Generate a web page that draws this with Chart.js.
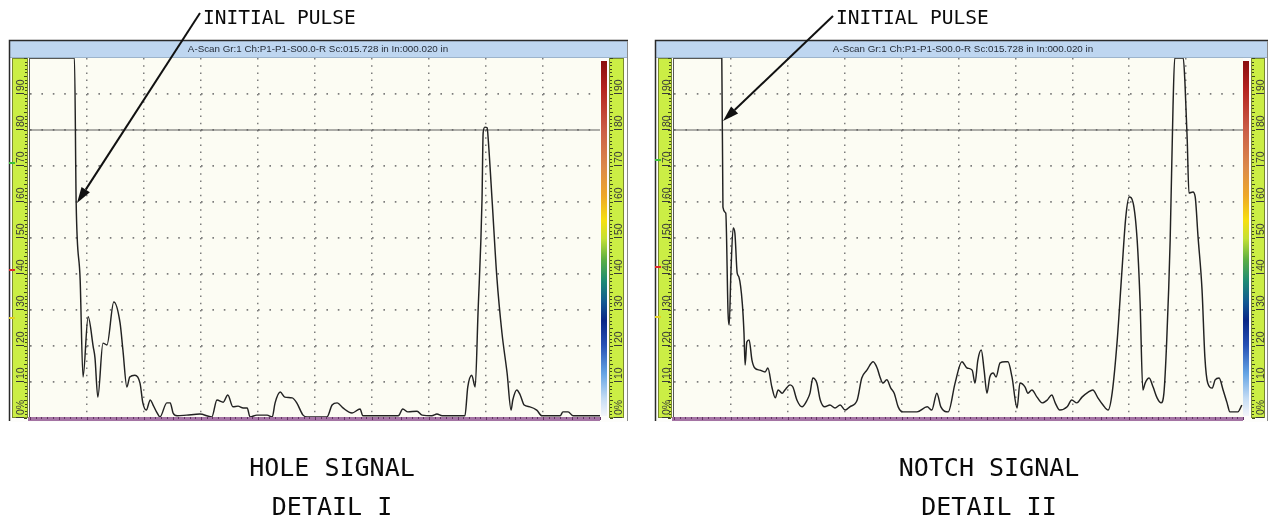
<!DOCTYPE html>
<html>
<head>
<meta charset="utf-8">
<script src="https://cdn.jsdelivr.net/npm/chart.js@4.4.0/dist/chart.umd.min.js"></script>
<style>
  html, body { margin: 0; padding: 0; background: #fff; }
  body { width: 1268px; height: 522px; position: relative; overflow: hidden; }
  canvas { position: absolute; top: 0; }
  svg { position: absolute; left: 0; top: 0; }
  svg text { font-family: "DejaVu Sans Mono", monospace; fill: #0a0a0a; }
</style>
</head>
<body>
<canvas id="hole" width="634" height="430" style="left:0"></canvas>
<canvas id="notch" width="634" height="430" style="left:634px"></canvas>
<svg width="1268" height="522">
  <line x1="200" y1="13" x2="85.7" y2="189.6" stroke="#111" stroke-width="2"/>
  <polygon points="77,203 89.9,192.3 81.5,186.9" fill="#111"/>
  <line x1="833" y1="16" x2="734.6" y2="110" stroke="#111" stroke-width="2"/>
  <polygon points="723,121 738.1,113.6 731.1,106.4" fill="#111"/>
  <text x="203" y="24" font-size="19.5">INITIAL PULSE</text>
  <text x="836" y="24" font-size="19.5">INITIAL PULSE</text>
  <text x="332" y="476" font-size="25" text-anchor="middle">HOLE SIGNAL</text>
  <text x="332" y="515" font-size="25" text-anchor="middle">DETAIL I</text>
  <text x="989" y="476" font-size="25" text-anchor="middle">NOTCH SIGNAL</text>
  <text x="989" y="515" font-size="25" text-anchor="middle">DETAIL II</text>
</svg>
<script>
// screen position (0-100, 10 divisions) and amplitude (% FSH)
const holeX = [0, 7.8, 8.1, 8.8, 9.3, 10.2, 11.1, 11.4, 11.9, 12.8, 13.5, 14.7, 15.8, 16.3, 17.0, 17.5,
  18.4, 19.3, 19.8, 20.4, 21.1, 21.6, 22.3, 22.8, 24.0, 24.6, 25.1, 25.8, 27.5, 29.8, 31.9, 32.8,
  33.9, 34.7, 35.6, 36.5, 37.4, 38.1, 38.6, 39.8, 41.6, 42.5, 43.0, 43.9, 44.7, 46.0, 46.8, 47.9,
  48.6, 52.1, 53.0, 53.9, 54.9, 56.5, 57.9, 58.4, 64.6, 65.4, 66.3, 67.9, 68.8, 70.5, 71.4, 72.3,
  76.3, 76.8, 77.5, 78.1, 78.6, 79.3, 79.5, 79.8, 80.2, 80.4, 81.1, 81.9, 82.8, 83.7, 84.4, 84.7,
  85.4, 86.0, 86.7, 87.7, 88.9, 89.8, 93.0, 93.5, 94.4, 95.3, 100];
const holeY = [100, 100, 59.7, 38.3, 11.4, 28.1, 19.7, 16.7, 5.8, 20.8, 20.3, 32.2, 26.4, 18.9, 8.6, 11.4,
  11.9, 9.7, 4.2, 2.2, 5.0, 3.6, 1.4, 0.3, 4.2, 4.2, 1.4, 0.6, 0.8, 1.1, 0.3, 5.0,
  4.4, 6.4, 3.1, 3.3, 2.8, 2.8, 0.3, 0.8, 0.8, 0.3, 4.2, 7.2, 5.8, 5.6, 4.2, 0.8,
  0.3, 0.3, 3.6, 4.2, 2.8, 1.4, 2.5, 0.6, 0.6, 2.5, 1.7, 1.9, 0.8, 0.6, 1.1, 0.6,
  0.6, 8.6, 11.9, 8.6, 29.2, 60.6, 79.2, 80.8, 80.6, 77.2, 59.7, 39.2, 23.6, 12.5, 2.2, 5.0,
  7.8, 6.4, 3.6, 3.1, 2.2, 0.6, 0.6, 1.7, 1.7, 0.6, 0.6];

const notchX = [0, 8.4, 8.6, 9.1, 9.5, 9.7, 10.0, 10.4, 10.7, 11.1, 11.4, 12.0, 12.3, 12.5, 12.8, 13.2,
  13.7, 14.2, 15.1, 16.0, 16.5, 17.2, 17.8, 18.3, 19.0, 19.5, 20.4, 20.9, 21.6, 22.5, 23.4, 23.9,
  24.4, 25.1, 25.7, 26.5, 27.4, 28.3, 29.2, 30.1, 30.9, 32.2, 33.0, 33.9, 35.0, 35.7, 36.2, 36.7,
  37.4, 38.1, 38.7, 39.4, 40.2, 42.7, 44.5, 45.3, 46.2, 46.9, 48.2, 49.4, 50.6, 51.5, 52.4, 52.9,
  53.4, 54.0, 54.5, 55.0, 55.5, 56.1, 56.6, 57.3, 58.2, 58.7, 59.4, 60.3, 60.8, 61.7, 62.2, 62.9,
  63.8, 64.7, 65.6, 66.4, 67.0, 67.8, 69.1, 69.9, 70.8, 71.7, 72.8, 73.6, 74.5, 75.4, 76.3, 77.0,
  77.9, 78.7, 79.4, 80.0, 80.7, 81.4, 81.9, 82.4, 82.8, 83.5, 84.2, 84.9, 85.6, 86.1, 86.6, 87.2,
  87.7, 88.0, 89.5, 89.8, 90.2, 90.5, 91.2, 91.6, 92.1, 92.8, 93.3, 93.8, 94.6, 95.1, 95.8, 96.5,
  97.2, 97.7, 99.1, 99.8];
const notchY = [100, 100, 58.6, 56.9, 29.2, 25.8, 40.3, 52.8, 51.4, 40.3, 39.2, 31.9, 23.6, 14.7, 21.1, 21.7,
  16.1, 13.9, 13.3, 12.8, 13.9, 8.6, 5.6, 7.8, 6.9, 7.8, 9.2, 8.6, 5.0, 3.1, 5.0, 6.9,
  11.1, 9.7, 5.0, 3.1, 3.6, 2.8, 3.6, 2.2, 3.1, 5.0, 11.1, 13.3, 15.6, 13.9, 11.4, 9.7,
  10.6, 8.3, 6.9, 3.1, 1.7, 1.7, 3.1, 2.2, 6.9, 3.1, 1.7, 9.7, 15.6, 13.9, 13.3, 9.7,
  16.1, 18.9, 13.3, 6.9, 11.4, 12.5, 11.4, 15.3, 15.6, 15.6, 11.4, 2.8, 9.7, 8.6, 6.9, 7.8,
  5.8, 4.2, 5.0, 6.4, 4.2, 2.2, 3.1, 5.0, 4.2, 5.8, 7.2, 7.8, 5.6, 3.6, 2.2, 6.9,
  21.7, 40.3, 55.8, 61.4, 59.7, 49.4, 32.8, 7.8, 9.7, 11.1, 8.6, 5.6, 4.2, 6.9, 21.7, 49.4,
  86.4, 100, 100, 93.1, 77.2, 62.5, 62.8, 61.4, 50.3, 35.6, 16.9, 9.7, 8.3, 10.6, 11.1, 7.8,
  4.2, 1.7, 1.7, 3.6];

// gate A level
const gateX = [0, 100];
const gateY = [80, 80];

const ampTicks = [0, 10, 20, 30, 40, 50, 60, 70, 80, 90];
const ampLabels = ["0%", "10", "20", "30", "40", "50", "60", "70", "80", "90"];
const titleText = "A-Scan Gr:1 Ch:P1-P1-S00.0-R Sc:015.728 in In:000.020 in";

function zip(xs, ys) {
  return xs.map((x, i) => ({ x: x, y: ys[i] }));
}

function drawStrip(ctx, y, x0, x1, side) {
  const top = y.top, bot = y.bottom;
  ctx.fillStyle = "#cbee45";
  ctx.fillRect(x0, top, x1 - x0, bot - top);
  ctx.strokeStyle = "#7a8a2e";
  ctx.lineWidth = 1;
  ctx.strokeRect(x0 + 0.5, top + 0.5, x1 - x0 - 1, bot - top - 1);
  ctx.fillStyle = "#3e4a1c";
  for (let v = 0; v <= 100; v++) {
    const py = Math.round(y.getPixelForValue(v));
    const len = v % 5 === 0 ? 3 : 2;
    if (side === "left") ctx.fillRect(x1 - 1 - len, py, len, 1);
    else ctx.fillRect(x0 + 1, py, len, 1);
  }
  ctx.font = '10.5px "Liberation Sans", Arial, sans-serif';
  ctx.textAlign = "left";
  ctx.textBaseline = "alphabetic";
  ampTicks.forEach((v, i) => {
    const py = y.getPixelForValue(v);
    const lx = side === "left" ? x0 + 4 : x0 + 5;
    ctx.fillStyle = "#3a3a3a";
    ctx.fillRect(lx, Math.round(py) - 1, 8, 1);
    ctx.save();
    ctx.translate(lx + 8, py - 3);
    ctx.rotate(-Math.PI / 2);
    ctx.fillText(ampLabels[i], 0, 0);
    ctx.restore();
  });
}

const scanFrame = {
  id: "scanFrame",
  beforeDraw(chart, args, o) {
    const { ctx, chartArea: a, scales: { y } } = chart;
    ctx.save();
    // panel body
    ctx.fillStyle = "#fdfdfb";
    ctx.fillRect(o.frameL, 40, o.frameR - o.frameL, 382);
    // title bar
    ctx.fillStyle = "#bed6f0";
    ctx.fillRect(o.frameL, 41, o.frameR - o.frameL, 16);
    ctx.fillStyle = "#9cb4cc";
    ctx.fillRect(o.frameL, 57, o.frameR - o.frameL, 1);
    ctx.fillStyle = "#262e3a";
    ctx.font = '9.8px "Liberation Sans", Arial, sans-serif';
    ctx.textAlign = "center";
    ctx.textBaseline = "middle";
    ctx.fillText(titleText, o.titleCx, 49.5);
    // outer frame
    ctx.strokeStyle = "#2a2a2a";
    ctx.lineWidth = 1.5;
    ctx.beginPath();
    ctx.moveTo(o.frameL, 421);
    ctx.lineTo(o.frameL, 40.5);
    ctx.lineTo(o.frameR, 40.5);
    ctx.stroke();
    ctx.strokeStyle = "#8a8a8a";
    ctx.lineWidth = 1;
    ctx.beginPath();
    ctx.moveTo(o.frameR - 0.5, 41);
    ctx.lineTo(o.frameR - 0.5, 421);
    ctx.stroke();
    // plot background
    ctx.fillStyle = "#fcfcf3";
    ctx.fillRect(a.left, a.top, a.right - a.left, a.bottom - a.top);
    ctx.fillStyle = "#555";
    ctx.fillRect(a.left - 1, a.top, 1, a.bottom - a.top);
    // amplitude strips
    drawStrip(ctx, y, o.leftStrip[0], o.leftStrip[1], "left");
    drawStrip(ctx, y, o.rightStrip[0], o.rightStrip[1], "right");
    // gate markers
    o.markers.forEach(m => {
      ctx.fillStyle = m.c;
      ctx.fillRect(o.leftStrip[0] - 3, Math.round(y.getPixelForValue(m.v)) - 1, 6, 2);
    });
    // colour palette bar
    const g = ctx.createLinearGradient(0, a.top + 3, 0, a.bottom - 2);
    g.addColorStop(0, "#8a0e10");
    g.addColorStop(0.08, "#b52420");
    g.addColorStop(0.2, "#cc6048");
    g.addColorStop(0.3, "#dc8a4a");
    g.addColorStop(0.38, "#eea828");
    g.addColorStop(0.45, "#f6e010");
    g.addColorStop(0.5, "#c4e034");
    g.addColorStop(0.56, "#5cae44");
    g.addColorStop(0.62, "#1e8a74");
    g.addColorStop(0.68, "#125892");
    g.addColorStop(0.73, "#0a2886");
    g.addColorStop(0.8, "#2650b4");
    g.addColorStop(0.88, "#64a4e4");
    g.addColorStop(0.95, "#c4dcf4");
    g.addColorStop(1, "#f4f6fa");
    ctx.fillStyle = g;
    ctx.fillRect(o.colorBar[0], a.top + 3, o.colorBar[1] - o.colorBar[0], a.bottom - a.top - 5);
    ctx.restore();
  },
  afterDraw(chart) {
    const { ctx, chartArea: a, scales: { x } } = chart;
    ctx.save();
    ctx.fillStyle = "#a474a4";
    ctx.fillRect(a.left - 2, a.bottom - 1, a.right - a.left + 2, 4);
    ctx.fillStyle = "#643464";
    for (let v = 0; v <= 100; v++) {
      const px = Math.round(x.getPixelForValue(v));
      ctx.fillRect(px, a.bottom - 1, 1, v % 5 ? 2 : 3);
    }
    ctx.restore();
  }
};

const gridColor = c => (c.tick && (c.tick.value === 0 || c.tick.value === 100)) ? "rgba(0,0,0,0)" : "#7c7c7c";

function makeScan(id, xs, ys, pad, frame) {
  return new Chart(document.getElementById(id), {
    type: "line",
    data: {
      datasets: [
        {
          data: zip(xs, ys),
          borderColor: "#222",
          borderWidth: 1.45,
          pointRadius: 0,
          cubicInterpolationMode: "monotone",
          order: 1
        },
        {
          data: zip(gateX, gateY),
          borderColor: "#5e5e5e",
          borderWidth: 1.2,
          pointRadius: 0,
          order: 2
        }
      ]
    },
    options: {
      responsive: false,
      animation: false,
      devicePixelRatio: 1,
      layout: { padding: pad },
      plugins: { legend: { display: false }, tooltip: { enabled: false }, scanFrame: frame },
      scales: {
        x: {
          type: "linear",
          min: 0,
          max: 100,
          ticks: { display: false, stepSize: 10 },
          grid: { drawTicks: false, lineWidth: 1.5, color: gridColor },
          border: { display: false, dash: [1.5, 5.7] },
          afterFit: s => { s.height = 0; }
        },
        y: {
          min: 0,
          max: 100,
          ticks: { display: false, stepSize: 10 },
          grid: { drawTicks: false, lineWidth: 1.8, color: gridColor },
          border: { display: false, dash: [1.6, 9.8] },
          afterFit: s => { s.width = 0; }
        }
      }
    },
    plugins: [scanFrame]
  });
}

makeScan("hole", holeX, holeY, { left: 30, right: 34, top: 58, bottom: 12 }, {
  frameL: 9.5, frameR: 628, titleCx: 318,
  leftStrip: [12, 28], colorBar: [601, 607], rightStrip: [609, 624],
  markers: [{ v: 70.8, c: "#3cc03c" }, { v: 41, c: "#e02828" }, { v: 27.8, c: "#e4d020" }]
});
makeScan("notch", notchX, notchY, { left: 40, right: 25, top: 58, bottom: 12 }, {
  frameL: 21.5, frameR: 634, titleCx: 329,
  leftStrip: [24, 38], colorBar: [609, 615], rightStrip: [617, 631],
  markers: [{ v: 71.7, c: "#3cc03c" }, { v: 41.9, c: "#e02828" }, { v: 28, c: "#e4d020" }]
});
</script>
</body>
</html>
